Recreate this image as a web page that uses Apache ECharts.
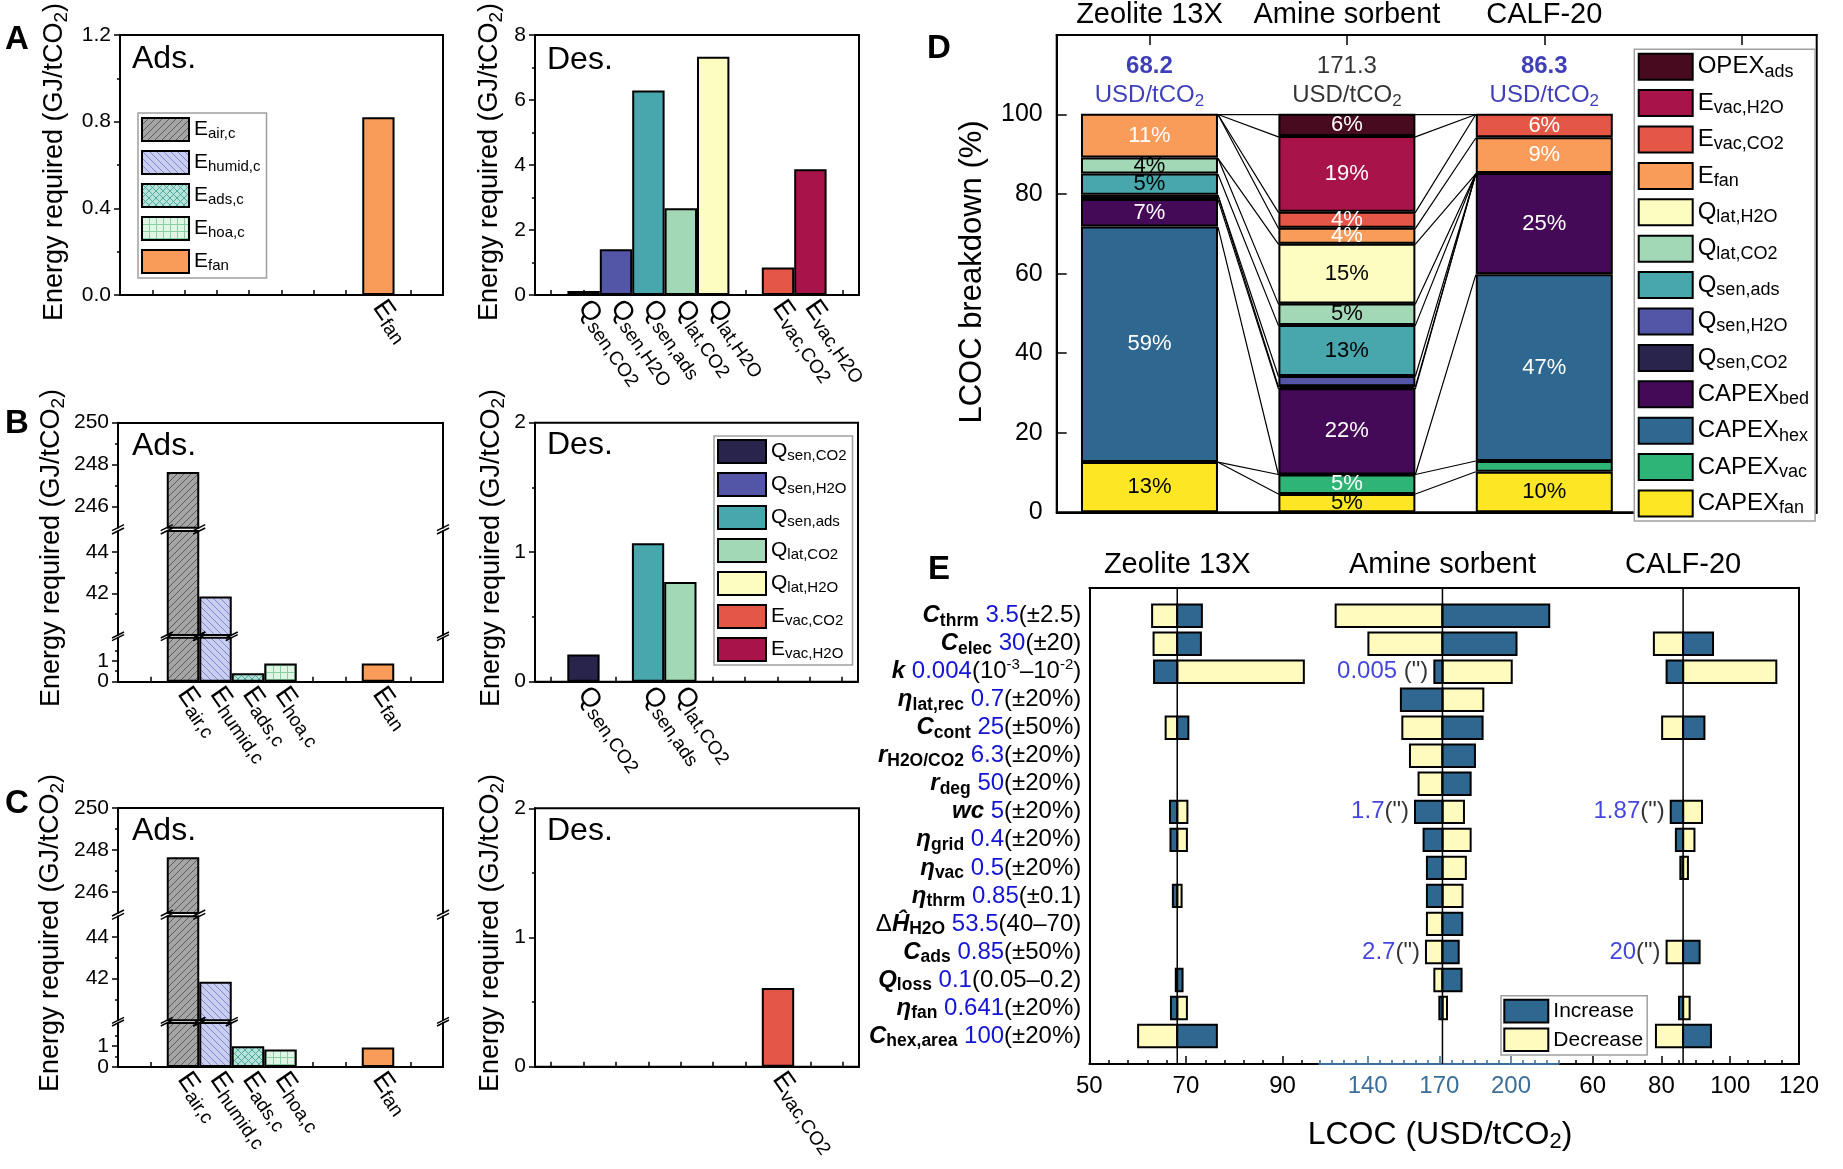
<!DOCTYPE html>
<html>
<head>
<meta charset="utf-8">
<title>LCOC figure</title>
<script src="https://cdn.jsdelivr.net/npm/echarts@6/dist/echarts.min.js"></script>
<style>
html,body{margin:0;padding:0;background:#fff;}
#chart{width:1843px;height:1169px;}
</style>
</head>
<body>
<div id="chart"></div>
<script>
// ================= DATA =================
const adsCats = ['E_air,c', 'E_humid,c', 'E_ads,c', 'E_hoa,c', 'E_fan'];
const adsA = [0, 0, 0, 0, 0.82];
const adsB = [247.65, 41.85, 0.40, 0.87, 0.87];
const adsC = [247.65, 41.85, 0.99, 0.83, 0.93];

const desCats = ['Q_sen,CO2', 'Q_sen,H2O', 'Q_sen,ads', 'Q_lat,CO2', 'Q_lat,H2O', 'E_vac,CO2', 'E_vac,H2O'];
const desA = [0.12, 1.41, 6.29, 2.67, 7.33, 0.85, 3.87];
const desB = [0.21, 0, 1.07, 0.77, 0, 0, 0];
const desC = [0, 0, 0, 0, 0, 0.61, 0];

const materials = ['Zeolite 13X', 'Amine sorbent', 'CALF-20'];
const lcoc = [68.2, 171.3, 86.3];

// LCOC breakdown, bottom -> top
const dCats = ['CAPEX_fan', 'CAPEX_vac', 'CAPEX_hex', 'CAPEX_bed', 'Q_sen,CO2', 'Q_sen,H2O', 'Q_sen,ads',
               'Q_lat,CO2', 'Q_lat,H2O', 'E_fan', 'E_vac,CO2', 'E_vac,H2O', 'OPEX_ads'];
const dZeolite = [12.6, 0, 59.1, 6.9, 1.1, 0, 5.3, 4.0, 0, 11.0, 0, 0, 0];
const dAmine   = [4.6, 4.9, 0, 21.6, 0.5, 2.6, 12.8, 5.4, 15.0, 4.0, 4.0, 19.0, 5.6];
const dCalf    = [10.2, 2.7, 46.8, 25.4, 0, 0, 0, 0, 0, 9.0, 5.9, 0, 0];

// Sensitivity (tornado)
const eParams  = ['C_thrm', 'C_elec', 'k', 'η_lat,rec', 'C_cont', 'r_H2O/CO2', 'r_deg', 'wc', 'η_grid', 'η_vac',
                  'η_thrm', 'ΔĤ_H2O', 'C_ads', 'Q_loss', 'η_fan', 'C_hex,area'];
const eNominal = ['3.5', '30', '0.004', '0.7', '25', '6.3', '50', '5', '0.4', '0.5', '0.85', '53.5', '0.85', '0.1', '0.641', '100'];
const eRange   = ['(±2.5)', '(±20)', '(10^-3–10^-2)', '(±20%)', '(±50%)', '(±20%)', '(±20%)', '(±20%)', '(±20%)', '(±20%)',
                  '(±0.1)', '(40–70)', '(±50%)', '(0.05–0.2)', '(±20%)', '(±20%)'];
const zeoInc = [73.3, 73.1, 63.4, null, 70.5, null, null, 66.7, 66.8, null, 67.3, null, null, 69.3, 66.9, 76.4];
const zeoDec = [63.0, 63.3, 94.4, null, 65.8, null, null, 70.3, 70.2, null, 69.1, null, null, 67.9, 70.2, 60.1];
const amiInc = [216.0, 202.3, 167.9, 153.9, 188.1, 184.9, 183.1, 159.8, 163.4, 164.8, 164.8, 179.6, 178.1, 179.3, 170.0, null];
const amiDec = [126.6, 140.3, 200.3, 188.4, 154.5, 157.7, 161.3, 180.3, 183.1, 181.1, 179.7, 164.8, 164.4, 167.9, 173.2, null];
const calInc = [null, 95.0, 81.5, null, 92.5, null, null, 82.7, 84.2, 85.5, null, null, 91.1, null, 85.1, 94.4];
const calDec = [null, 77.8, 113.4, null, 80.2, null, null, 91.8, 89.6, 87.7, null, null, 81.5, null, 88.2, 78.4];
const eNoteMat = [1, 1, 1, 2, 2];
const eNoteRow = ['k', 'wc', 'C_ads', 'wc', 'C_ads'];
const eNoteNum = ['0.005', '1.7', '2.7', '1.87', '20'];
const eNoteTxt = [' (")', '(")', '(")', '(")', '(")'];

// ================= STYLE =================
const FONT = '"Liberation Sans", Arial, Helvetica, sans-serif';
const BLUE = '#1414d4';
const DBLUE = '#0e0ea6';
const AMINE_AX = '#3b6e98';
const INC = '#2e6790', DEC = '#fffbbe';
const COLORS = {
  'OPEX_ads': '#480a1f', 'E_vac,H2O': '#a8144a', 'E_vac,CO2': '#e45645', 'E_fan': '#f99b59',
  'Q_lat,H2O': '#fefdc1', 'Q_lat,CO2': '#a2d8b6', 'Q_sen,ads': '#48a6ad', 'Q_sen,H2O': '#5356a6',
  'Q_sen,CO2': '#28244c', 'CAPEX_bed': '#440a57', 'CAPEX_hex': '#2e6790', 'CAPEX_vac': '#2fb477', 'CAPEX_fan': '#fde725'
};
const DARK_TEXT = new Set(['Q_lat,H2O', 'Q_lat,CO2', 'Q_sen,ads', 'CAPEX_fan']);

function pattern(bg, fg, kind) {
  const s = 7, c = document.createElement('canvas');
  c.width = s; c.height = s;
  const g = c.getContext('2d');
  g.fillStyle = bg; g.fillRect(0, 0, s, s);
  g.strokeStyle = fg; g.lineWidth = 1; g.beginPath();
  const fwd = () => { for (let o = -s; o <= s; o += s) { g.moveTo(o, s); g.lineTo(o + s, 0); } };
  const bwd = () => { for (let o = -s; o <= s; o += s) { g.moveTo(o, 0); g.lineTo(o + s, s); } };
  if (kind === 'fwd') fwd();
  else if (kind === 'bwd') bwd();
  else if (kind === 'cross') { fwd(); bwd(); }
  else if (kind === 'grid') { g.moveTo(0, 0.5); g.lineTo(s, 0.5); g.moveTo(0.5, 0); g.lineTo(0.5, s); }
  g.stroke();
  return { image: c, repeat: 'repeat' };
}
const FILL = Object.assign({}, COLORS, {
  'E_air,c': pattern('#a5a5a5', '#5a5a5a', 'fwd'),
  'E_humid,c': pattern('#c9cdef', '#8088cc', 'bwd'),
  'E_ads,c': pattern('#b6e3da', '#4fa99d', 'cross'),
  'E_hoa,c': pattern('#e1f5e6', '#8acf9f', 'grid')
});

// ================= HELPERS =================
function isObj(v) { return Object.prototype.toString.call(v) === '[object Object]'; }
function merge(a, b) {
  const out = Object.assign({}, a);
  Object.keys(b).forEach(k => { out[k] = (isObj(b[k]) && isObj(out[k])) ? merge(out[k], b[k]) : b[k]; });
  return out;
}
function subRich(name, m, s) {
  m = m || 'm'; s = s || 's';
  const i = name.indexOf('_');
  return i < 0 ? `{${m}|${name}}` : `{${m}|${name.slice(0, i)}}{${s}|${name.slice(i + 1)}}`;
}
function richPair(mSize, sSize, lh, color) {
  return {
    m: { fontSize: mSize, lineHeight: lh, fontFamily: FONT, color: color },
    s: { fontSize: sSize, lineHeight: Math.round(sSize * 0.72), verticalAlign: 'bottom', fontFamily: FONT, color: color }
  };
}
const catRich = richPair(27, 19, 31, '#000');

const grids = [], xAxis = [], yAxis = [], series = [], legend = [], gfx = [];
const AX = {
  splitLine: { show: false },
  axisLine: { show: true, onZero: false, lineStyle: { color: '#000', width: 2 } },
  axisTick: { show: false, lineStyle: { color: '#000', width: 1.5 } },
  axisLabel: { show: false, color: '#000', fontFamily: FONT, fontSize: 21 },
  axisPointer: { show: false }
};
const addGrid = g => { grids.push(merge({ show: false, containLabel: false }, g)); return grids.length - 1; };
const addX = a => { xAxis.push(merge(AX, a)); return xAxis.length - 1; };
const addY = a => { yAxis.push(merge(AX, a)); return yAxis.length - 1; };
const FRAME = { show: true, borderColor: '#000', borderWidth: 2, backgroundColor: 'transparent' };
const MINOR = { show: true, splitNumber: 2, length: 3, lineStyle: { color: '#000', width: 1.5 } };

const adsSlots = [2, 3, 4, 5, 8], desSlots = [1, 2, 3, 4, 5, 7, 8];
const ADS_N = 11, DES_N = 10;
function slotNames(n, slots, cats, vals) {
  const a = new Array(n).fill('');
  slots.forEach((s, k) => { if (vals[k] > 0) a[s] = cats[k]; });
  return a;
}
function barSeries(xi, yi, cats, slots, n, vals, stack) {
  cats.forEach((c, k) => {
    const data = new Array(n).fill('-');
    if (vals[k] > 0) data[slots[k]] = vals[k];
    series.push({ type: 'bar', name: c, xAxisIndex: xi, yAxisIndex: yi, stack: stack, barWidth: '100%', silent: true, z: 2,
      itemStyle: { color: FILL[c], borderColor: '#000', borderWidth: 2 }, data: data });
  });
}
function catX(gi, names, gap, extra) {
  return addX(merge({ type: 'category', gridIndex: gi, data: names, boundaryGap: gap, position: 'bottom',
    axisTick: { show: true, inside: true, length: 5, interval: 0, alignWithLabel: true },
    axisLabel: { show: true, interval: 0, rotate: -55, margin: 8, formatter: v => v ? subRich(v) : '', rich: catRich } }, extra || {}));
}

// ---------- Panel A left (single axis) ----------
(function () {
  const gi = addGrid(merge({ left: 120, top: 35, width: 323, height: 260 }, FRAME));
  const xi = catX(gi, slotNames(ADS_N, adsSlots, adsCats, adsA), false);
  const yi = addY({ type: 'value', gridIndex: gi, min: 0, max: 1.2, interval: 0.4,
    axisTick: { show: true, length: 6 }, minorTick: MINOR,
    axisLabel: { show: true, margin: 9, formatter: v => v.toFixed(1) } });
  barSeries(xi, yi, adsCats, adsSlots, ADS_N, adsA, 'aL');
})();

// ---------- Des panels ----------
function desPanel(box, vals, max, interval, stack) {
  const gi = addGrid(merge(box, FRAME));
  const xi = catX(gi, slotNames(DES_N, desSlots, desCats, vals), true);
  const yi = addY({ type: 'value', gridIndex: gi, min: 0, max: max, interval: interval,
    axisTick: { show: true, length: 6 }, minorTick: MINOR, axisLabel: { show: true, margin: 9 } });
  barSeries(xi, yi, desCats, desSlots, DES_N, vals, stack);
}
desPanel({ left: 535, top: 35, width: 324, height: 260 }, desA, 8, 2, 'aR');

// ---------- Broken-axis Ads panels ----------
const SEG = [
  { min: 245, max: 250, h: 105, gap: 3.3, labels: [246, 248, 250], minors: [247, 249] },
  { min: 40, max: 45, h: 104, gap: 2.7, labels: [42, 44], minors: [41, 43] },
  { min: 0, max: 2.1, h: 44, gap: 0, labels: [0, 1], minors: [0.5, 1.5] }
];
const brokenInfo = [];
function adsBroken(left, width, top, vals) {
  let y = top; const segs = [];
  SEG.forEach((sg, i) => {
    const gi = addGrid({ left: left, width: width, top: y, height: sg.h });
    const names = slotNames(ADS_N, adsSlots, adsCats, vals);
    const last = i === SEG.length - 1;
    const xi = last ? catX(gi, names, false)
      : addX({ type: 'category', gridIndex: gi, data: names, boundaryGap: false, position: 'top', axisLine: { show: i === 0 } });
    const yi = addY({ type: 'value', gridIndex: gi, min: sg.min, max: sg.max, position: 'left',
      axisTick: { show: true, length: 6, customValues: sg.labels },
      axisLabel: { show: true, margin: 9, customValues: sg.labels } });
    addY({ type: 'value', gridIndex: gi, min: sg.min, max: sg.max, position: 'left',
      axisLine: { show: false }, axisTick: { show: true, length: 3, customValues: sg.minors } });
    addY({ type: 'value', gridIndex: gi, min: sg.min, max: sg.max, position: 'right' });
    barSeries(xi, yi, adsCats, adsSlots, ADS_N, vals, 'brk' + gi);
    segs.push({ gi: gi, xi: xi, top: y, bottom: y + sg.h, min: sg.min, max: sg.max });
    y += sg.h + sg.gap;
  });
  brokenInfo.push({ segs: segs, vals: vals, left: left, width: width });
}
adsBroken(118, 325, 422.7, adsB);
desPanel({ left: 535, top: 422.7, width: 323, height: 259 }, desB, 2, 1, 'bR');
adsBroken(118, 325, 808, adsC);
desPanel({ left: 535, top: 808.3, width: 324, height: 258.4 }, desC, 2, 1, 'cR');

// ---------- Panel D ----------
const DBOX = { left: 1056.7, top: 34, width: 760, height: 478.3 };
const dMin = 0.53, dMax = 4.38, dBarW = 137;
(function () {
  const pxPerUnit = DBOX.width / (dMax - dMin);
  const gi = addGrid(merge(DBOX, FRAME));
  const xi = addX({ type: 'value', gridIndex: gi, min: dMin, max: dMax, position: 'bottom' });
  addX({ type: 'value', gridIndex: gi, min: dMin, max: dMax, position: 'top',
    axisTick: { show: true, inside: true, length: 10, customValues: [1, 2, 3, 4] },
    axisLabel: { show: true, customValues: [1, 2, 3], margin: 6, fontSize: 29, formatter: v => materials[Math.round(v) - 1] } });
  const yi = addY({ type: 'value', gridIndex: gi, min: 0, max: 120, interval: 20,
    axisTick: { show: true, inside: true, length: 10 },
    axisLabel: { show: true, fontSize: 25, margin: 14, formatter: v => (v <= 100 ? String(v) : '') } });
  // bar grid: category band centres coincide with x = 1, 2, 3 of the frame axis
  const bg = addGrid({ left: DBOX.left + (0.5 - dMin) * pxPerUnit, width: 3 * pxPerUnit, top: DBOX.top, height: DBOX.height });
  const bxi = addX({ type: 'category', gridIndex: bg, data: materials, boundaryGap: true, show: false });
  const byi = addY({ type: 'value', gridIndex: bg, min: 0, max: 120, show: false });
  const mats = [dZeolite, dAmine, dCalf];
  dCats.forEach((c, i) => {
    series.push({ type: 'bar', name: c, xAxisIndex: bxi, yAxisIndex: byi, stack: 'D', barWidth: dBarW, z: 3, silent: true,
      itemStyle: { color: COLORS[c], borderColor: '#000', borderWidth: 2 },
      label: { show: true, position: 'inside', color: DARK_TEXT.has(c) ? '#000' : '#fff', fontSize: 22, fontFamily: FONT,
        formatter: p => { const v = Array.isArray(p.value) ? p.value[1] : p.value; return v >= 3.5 ? Math.round(v) + '%' : ''; } },
      data: mats.map(m => m[i] > 0 ? m[i] : { value: 0, itemStyle: { borderWidth: 0 } }) });
  });
  // connecting lines between cumulative tops
  const hw = dBarW / 2 / pxPerUnit;
  const cum = mats.map(m => { let s = 0; return m.map(v => (s += v)); });
  dCats.forEach((c, i) => {
    series.push({ type: 'line', xAxisIndex: xi, yAxisIndex: yi, z: 1, silent: true, symbol: 'none',
      lineStyle: { color: '#000', width: 1.2 },
      data: [[1 + hw, cum[0][i]], [2 - hw, cum[1][i]], [2 + hw, cum[1][i]], [3 - hw, cum[2][i]]] });
  });
  // LCOC totals above bars
  const lr = {
    bN: { fontSize: 24, fontWeight: 'bold', color: DBLUE, lineHeight: 29, fontFamily: FONT },
    bU: { fontSize: 24, color: DBLUE, lineHeight: 29, fontFamily: FONT },
    bS: { fontSize: 17, color: DBLUE, lineHeight: 12, verticalAlign: 'bottom', fontFamily: FONT },
    kN: { fontSize: 24, color: '#000', lineHeight: 29, fontFamily: FONT },
    kU: { fontSize: 24, color: '#000', lineHeight: 29, fontFamily: FONT },
    kS: { fontSize: 17, color: '#000', lineHeight: 12, verticalAlign: 'bottom', fontFamily: FONT }
  };
  series.push({ type: 'scatter', xAxisIndex: xi, yAxisIndex: yi, symbolSize: 0, silent: true, z: 5,
    data: lcoc.map((v, j) => [j + 1, 108.5]),
    label: { show: true, position: 'inside', rich: lr,
      formatter: p => { const j = p.dataIndex, st = j === 1 ? 'k' : 'b';
        return `{${st}N|${lcoc[j].toFixed(1)}}\n{${st}U|USD/tCO}{${st}S|2}`; } } });
})();

// ---------- Panel E (tornado) ----------
const eTop = 587.7, eH = 476.3;
const eCatData = [''].concat(eParams, ['']);
const eRich = {
  bi: { fontSize: 24, fontWeight: 'bold', fontStyle: 'italic', lineHeight: 28, fontFamily: FONT, color: '#000' },
  bs: { fontSize: 17.5, fontWeight: 'bold', lineHeight: 12, verticalAlign: 'bottom', fontFamily: FONT, color: '#000' },
  n: { fontSize: 24, lineHeight: 28, color: BLUE, fontFamily: FONT },
  t: { fontSize: 24, lineHeight: 28, color: '#000', fontFamily: FONT },
  sup: { fontSize: 15, lineHeight: 12, verticalAlign: 'top', color: '#000', fontFamily: FONT }
};
function eLabel(key) {
  const i = eParams.indexOf(key);
  if (i < 0) return '';
  const u = key.indexOf('_');
  let main = u < 0 ? key : key.slice(0, u);
  const sub = u < 0 ? '' : key.slice(u + 1);
  let s = '';
  if (main.charAt(0) === 'Δ') { s += '{t|Δ}'; main = main.slice(1); }
  s += `{bi|${main}}` + (sub ? `{bs|${sub}}` : '');
  s += `{t| }{n|${eNominal[i]}}`;
  s += '{t|' + eRange[i].replace(/\^(-?\d+)/g, '}{sup|$1}{t|') + '}';
  return s;
}
function tornadoItem(params, api) {
  const v = api.value(0), r = api.value(1), b = api.value(2);
  const p1 = api.coord([b, r]), p2 = api.coord([v, r]);
  const h = api.size([0, 1])[1] * 0.8;
  return { type: 'rect', shape: { x: Math.min(p1[0], p2[0]), y: p1[1] - h / 2, width: Math.abs(p2[0] - p1[0]), height: h },
    style: api.style() };
}
function ticksBetween(min, max, step, start, exclude) {
  const out = [];
  for (let v = start; v <= max + 1e-9; v += step) {
    const r = Math.round(v * 100) / 100;
    if (r >= min && exclude.indexOf(r) < 0) out.push(r);
  }
  return out;
}
const eAxes = [
  { left: 1089.3, width: 230, min: 50, max: 97.6, majors: [50, 70, 90], step: 4, start: 50, color: '#000', lab: '#000' },
  { left: 1319.3, width: 240.7, min: 119.75, max: 220.5, majors: [140, 170, 200], step: 5, start: 120, color: AMINE_AX, lab: AMINE_AX },
  { left: 1560, width: 239, min: 50.5, max: 120, majors: [60, 80, 100, 120], step: 5, start: 55, color: '#000', lab: '#000' }
];
const incs = [zeoInc, amiInc, calInc], decs = [zeoDec, amiDec, calDec];
eAxes.forEach((ea, m) => {
  const gi = addGrid({ left: ea.left, width: ea.width, top: eTop, height: eH });
  const xi = addX({ type: 'value', gridIndex: gi, min: ea.min, max: ea.max, position: 'bottom',
    axisLine: { lineStyle: { color: ea.color } },
    axisTick: { show: true, inside: true, length: 8, customValues: ea.majors, lineStyle: { color: ea.color } },
    axisLabel: { show: true, customValues: ea.majors, fontSize: 24, margin: 10, color: ea.lab } });
  addX({ type: 'value', gridIndex: gi, min: ea.min, max: ea.max, position: 'bottom', axisLine: { show: false },
    axisTick: { show: true, inside: true, length: 4, customValues: ticksBetween(ea.min, ea.max, ea.step, ea.start, ea.majors), lineStyle: { color: ea.color } } });
  addX({ type: 'value', gridIndex: gi, min: ea.min, max: ea.max, position: 'top',
    axisLabel: { show: true, customValues: [lcoc[m]], fontSize: 29, margin: 8, formatter: () => materials[m] } });
  const yi = addY({ type: 'category', gridIndex: gi, data: eCatData, inverse: true, boundaryGap: false,
    position: m === 2 ? 'right' : 'left', axisLine: { show: m !== 1 },
    axisLabel: { show: m === 0, interval: 0, margin: 8, formatter: v => eLabel(v), rich: eRich } });
  const rows = (vals) => vals.map((v, r) => (v == null ? null : [v, r + 1, lcoc[m]])).filter(Boolean);
  series.push({ type: 'custom', name: 'Decrease', xAxisIndex: xi, yAxisIndex: yi, renderItem: tornadoItem, silent: true, z: 3,
    encode: { x: 0, y: 1 }, itemStyle: { color: DEC, borderColor: '#000', borderWidth: 2 }, data: rows(decs[m]) });
  series.push({ type: 'custom', name: 'Increase', xAxisIndex: xi, yAxisIndex: yi, renderItem: tornadoItem, silent: true, z: 3,
    encode: { x: 0, y: 1 }, itemStyle: { color: INC, borderColor: '#000', borderWidth: 2 }, data: rows(incs[m]) });
  series.push({ type: 'line', xAxisIndex: xi, yAxisIndex: yi, symbol: 'none', silent: true, z: 6,
    lineStyle: { color: '#000', width: 1.5 }, data: [[lcoc[m], 0], [lcoc[m], eCatData.length - 1]] });
  const noteIdx = eNoteMat.map((mm, k) => k).filter(k => eNoteMat[k] === m);
  if (noteIdx.length) {
    series.push({ type: 'scatter', xAxisIndex: xi, yAxisIndex: yi, symbolSize: 0, silent: true, z: 6,
      data: noteIdx.map(q => { const r = eParams.indexOf(eNoteRow[q]); return [Math.min(incs[m][r], decs[m][r]), r + 1]; }),
      label: { show: true, position: 'left', distance: 6, rich: eRich,
        formatter: p => { const q = noteIdx[p.dataIndex]; return `{n|${eNoteNum[q]}}{t|${eNoteTxt[q]}}`; } } });
  }
});

// ---------- Legends ----------
const legBase = { orient: 'vertical', icon: 'rect', selectedMode: false, backgroundColor: '#fff',
  borderColor: '#a0a0a0', borderWidth: 1.5, itemStyle: { borderColor: '#000', borderWidth: 2 },
  textStyle: { color: '#000', fontFamily: FONT } };
legend.push(merge(legBase, { left: 138, top: 113, data: adsCats, itemWidth: 47, itemHeight: 23, itemGap: 8,
  padding: [4, 6, 4, 3], formatter: n => subRich(n), textStyle: { fontSize: 21, rich: richPair(21, 15, 24, '#000') } }));
legend.push(merge(legBase, { left: 714, top: 436, data: desCats, itemWidth: 48, itemHeight: 23, itemGap: 8,
  padding: [3, 6, 3, 3], formatter: n => subRich(n), textStyle: { fontSize: 21, rich: richPair(21, 15, 24, '#000') } }));
legend.push(merge(legBase, { left: 1634.3, top: 49.3, data: dCats.slice().reverse(), itemWidth: 54, itemHeight: 26, itemGap: 8.4,
  padding: [3.4, 6, 3.4, 3.4], formatter: n => subRich(n), textStyle: { fontSize: 24, rich: richPair(24, 18, 28, '#000') } }));
legend.push(merge(legBase, { left: 1501, top: 995.7, data: ['Increase', 'Decrease'], itemWidth: 44, itemHeight: 22.7, itemGap: 4,
  padding: [3, 4, 3, 2.3], textStyle: { fontSize: 21 } }));

// ---------- Text annotations ----------
function gText(x, y, text, style, rot) {
  gfx.push({ type: 'text', x: x, y: y, rotation: rot || 0, z: 100, silent: true,
    style: Object.assign({ text: text, fill: '#000', fontFamily: FONT, fontSize: 21, align: 'center', verticalAlign: 'middle' }, style) });
}
const ytRich = { m: { fontSize: 27, lineHeight: 32, fontFamily: FONT, fill: '#000' },
  s: { fontSize: 19, lineHeight: 14, verticalAlign: 'bottom', fontFamily: FONT, fill: '#000' } };
const yTitle = '{m|Energy required (GJ/tCO}{s|2}{m|)}';
[[55, 162], [490, 162], [52, 548], [492, 548], [51, 933], [491, 933]].forEach(p => gText(p[0], p[1], yTitle, { rich: ytRich }, Math.PI / 2));
[[132, 59.5, 'Ads.'], [547, 60, 'Des.'], [132, 446, 'Ads.'], [547, 445, 'Des.'], [132, 831, 'Ads.'], [547, 831, 'Des.']]
  .forEach(p => gText(p[0], p[1], p[2], { fontSize: 32, align: 'left' }));
[['A', 17, 40], ['B', 17, 424], ['C', 17, 804], ['D', 939, 49], ['E', 939, 570]]
  .forEach(p => gText(p[1], p[2], p[0], { fontSize: 33, fontWeight: 'bold' }));
gText(972, 272, 'LCOC breakdown (%)', { fontSize: 31 }, Math.PI / 2);
gText(1440, 1135, '{m|LCOC (USD/tCO}{s|2}{m|)}', { rich: {
  m: { fontSize: 32, lineHeight: 36, fontFamily: FONT, fill: '#000' },
  s: { fontSize: 22, lineHeight: 16, verticalAlign: 'bottom', fontFamily: FONT, fill: '#000' } } });

// ================= RENDER =================
const chart = echarts.init(document.getElementById('chart'), null, { renderer: 'canvas' });
chart.setOption({
  animation: false,
  textStyle: { fontFamily: FONT },
  grid: grids, xAxis: xAxis, yAxis: yAxis, series: series, legend: legend,
  graphic: { elements: gfx }
});

// axis-break marks
brokenInfo.forEach(info => {
  for (let i = 0; i < info.segs.length - 1; i++) {
    const a = info.segs[i], b = info.segs[i + 1];
    const xs = [info.left, info.left + info.width];
    const half = info.width / (ADS_N - 1) / 2;
    info.vals.forEach((v, k) => {
      if (v > b.max) {
        const cx = chart.convertToPixel({ xAxisIndex: a.xi }, adsSlots[k]);
        xs.push(cx - half, cx + half);
      }
    });
    xs.forEach(x => [a.bottom, b.top].forEach(y => gfx.push({ type: 'line', z: 100, silent: true,
      shape: { x1: x - 6, y1: y + 3, x2: x + 6, y2: y - 3 }, style: { stroke: '#000', lineWidth: 1.5 } })));
  }
});
chart.setOption({ graphic: { elements: gfx } });
</script>
</body>
</html>
